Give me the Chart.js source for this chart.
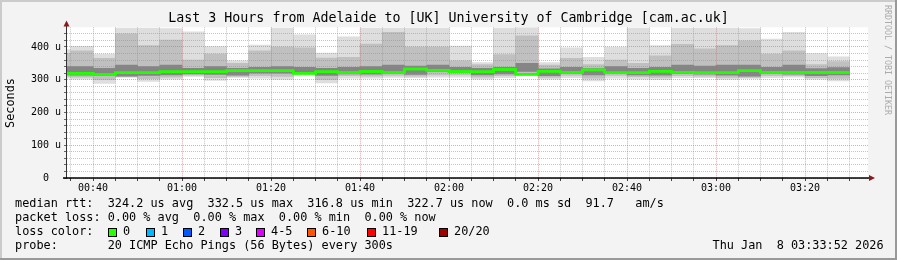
<!DOCTYPE html>
<html>
<head>
<meta charset="utf-8">
<script src="https://cdn.jsdelivr.net/npm/chart.js@4.4.1/dist/chart.umd.min.js"></script>
<style>
  html, body { margin: 0; padding: 0; background: #f3f3f3; }
  canvas { display: block; }
</style>
</head>
<body>
<canvas id="chart" width="897" height="260"></canvas>
<script>
// 5 minute rrd steps, minutes after midnight (start of each step)
const slotStart = [30, 35, 40, 45, 50, 55, 60, 65, 70, 75, 80, 85,
                   90, 95, 100, 105, 110, 115, 120, 125, 130, 135, 140, 145,
                   150, 155, 160, 165, 170, 175, 180, 185, 190, 195, 200, 205];
const lastSlotEnd = 210;

// round trip times in microseconds (smoke bands + median)
const rttMax = [392, 402, 378, 458, 458, 456, 446, 401, 358, 406, 458, 437,
                381, 431, 458, 458, 458, 458, 403, 352, 458, 459, 352, 397,
                368, 400, 458, 404, 458, 458, 458, 456, 424, 445, 380, 370];
const rttHi1 = [380, 388, 365, 440, 404, 421, 360, 378, 350, 388, 400, 397,
                366, 368, 409, 445, 400, 400, 358, 346, 377, 434, 345, 365,
                346, 360, 350, 373, 408, 394, 404, 419, 378, 388, 346, 355];
const rttHi2 = [340, 340, 335, 345, 340, 345, 335, 340, 335, 338, 340, 338,
                335, 338, 340, 345, 342, 345, 338, 335, 338, 350, 333, 338,
                334, 340, 335, 338, 345, 342, 345, 345, 338, 345, 334, 337];
const rttMedian = [321, 320, 320, 316, 321, 321, 324, 324, 324, 327, 327, 327,
                   320, 324, 322, 325, 322, 333, 329, 325, 324, 331, 317, 326,
                   323, 330, 321, 321, 326, 323, 321, 321, 327, 323, 322, 322];
const rttLo2 = [315, 314, 312, 311, 313, 315, 318, 316, 314, 320, 320, 321,
                313, 318, 317, 319, 316, 325, 322, 315, 318, 325, 312, 320,
                315, 322, 315, 314, 319, 317, 314, 311, 320, 317, 312, 315];
const rttLo1 = [310, 308, 300, 309, 303, 308, 314, 306, 310, 312, 310, 317,
                300, 312, 311, 313, 311, 315, 315, 308, 312, 318, 307, 313,
                305, 313, 309, 307, 312, 311, 307, 307, 312, 312, 306, 304];
const rttMin = [305, 302, 289, 307, 295, 302, 310, 298, 307, 305, 301, 313,
                290, 305, 305, 307, 306, 308, 308, 302, 306, 313, 302, 306,
                296, 305, 302, 300, 306, 306, 301, 304, 306, 308, 302, 296];

const xTickMinutes = [40, 60, 80, 100, 120, 140, 160, 180, 200];
const xTickLabels = ['00:40', '01:00', '01:20', '01:40', '02:00', '02:20', '02:40', '03:00', '03:20'];
const yTickValues = [0, 100, 200, 300, 400];
const yTickLabels = ['0  ', '100 u', '200 u', '300 u', '400 u'];

const lossLabels = ['0', '1', '2', '3', '4-5', '6-10', '11-19', '20/20'];
const lossColors = ['#26ff00', '#00b8ff', '#0059ff', '#7e00ff', '#dd00ff', '#ff5500', '#ff0000', '#a10000'];

const title = 'Last 3 Hours from Adelaide to [UK] University of Cambridge [cam.ac.uk]';
const legendRtt = 'median rtt:  324.2 us avg  332.5 us max  316.8 us min  322.7 us now  0.0 ms sd  91.7   am/s';
const legendLoss = 'packet loss: 0.00 % avg  0.00 % max  0.00 % min  0.00 % now';
const legendProbe = 'probe:       20 ICMP Echo Pings (56 Bytes) every 300s';
const stamp = 'Thu Jan  8 03:33:52 2026';

const MONO = '"DejaVu Sans Mono", "Liberation Mono", monospace';

function band(lo, hi) {
    return slotStart.map((t, i) => ({ x: t + 2.5, y: [lo[i], hi[i]] }));
}

const medianSteps = slotStart.map((t, i) => ({ x: t, y: rttMedian[i] }));
medianSteps.push({ x: lastSlotEnd, y: rttMedian[rttMedian.length - 1] });

const smoke = {
    type: 'bar',
    borderWidth: 0,
    barPercentage: 1,
    categoryPercentage: 1,
    grouped: false,
    clip: 0
};

const rrdLook = {
    id: 'rrdLook',
    beforeDraw(chart) {
        const { ctx, chartArea: a } = chart;
        const w = chart.width, h = chart.height;
        ctx.save();
        ctx.fillStyle = '#f3f3f3';
        ctx.fillRect(0, 0, w, h);
        ctx.fillStyle = '#cbcbcb';
        ctx.fillRect(0, 0, w, 2);
        ctx.fillRect(0, 0, 2, h);
        ctx.fillStyle = '#999999';
        ctx.fillRect(0, h - 2, w, 2);
        ctx.fillRect(w - 2, 0, 2, h);
        ctx.fillStyle = '#ffffff';
        ctx.fillRect(a.left, a.top, a.right - a.left, a.bottom - a.top);
        ctx.restore();
    },
    afterDraw(chart) {
        const { ctx, chartArea: a } = chart;

        // median line again, above the grid
        ctx.save();
        ctx.beginPath();
        ctx.rect(a.left, a.top, a.right - a.left, a.bottom - a.top);
        ctx.clip();
        chart.getDatasetMeta(3).controller.draw();
        ctx.restore();

        ctx.save();
        // axes
        ctx.strokeStyle = '#333';
        ctx.lineWidth = 1;
        ctx.beginPath();
        ctx.moveTo(66.5, a.bottom);
        ctx.lineTo(66.5, 24);
        ctx.stroke();
        ctx.strokeStyle = '#000';
        ctx.lineWidth = 1.5;
        ctx.beginPath();
        ctx.moveTo(63, a.bottom);
        ctx.lineTo(870, a.bottom);
        ctx.stroke();
        ctx.fillStyle = '#8b1a1a';
        ctx.beginPath();
        ctx.moveTo(66.5, 20.5);
        ctx.lineTo(63.5, 26.5);
        ctx.lineTo(69.5, 26.5);
        ctx.closePath();
        ctx.fill();
        ctx.beginPath();
        ctx.moveTo(875, a.bottom);
        ctx.lineTo(869, a.bottom - 3);
        ctx.lineTo(869, a.bottom + 3);
        ctx.closePath();
        ctx.fill();

        // title
        ctx.fillStyle = '#000';
        ctx.textBaseline = 'middle';
        ctx.textAlign = 'center';
        ctx.font = '13.3px ' + MONO;
        ctx.fillText(title, 448.5, 19);

        // y axis title
        ctx.font = '11.85px ' + MONO;
        ctx.save();
        ctx.translate(11, 103);
        ctx.rotate(-Math.PI / 2);
        ctx.fillText('Seconds', 0, 0);
        ctx.restore();

        // credit
        ctx.save();
        ctx.fillStyle = '#ababab';
        ctx.font = '8.3px ' + MONO;
        ctx.textAlign = 'left';
        ctx.translate(887, 5);
        ctx.rotate(Math.PI / 2);
        ctx.fillText('RRDTOOL / TOBI OETIKER', 0, 0);
        ctx.restore();

        // legend
        ctx.textAlign = 'left';
        ctx.font = '11.85px ' + MONO;
        ctx.fillText(legendRtt, 15, 204.3);
        ctx.fillText(legendLoss, 15, 218.3);
        ctx.fillText('loss color:', 15, 232.3);
        ctx.fillText(legendProbe, 15, 246.3);
        ctx.fillText(stamp, 712.5, 246.3);

        const swatchX = [108, 145.5, 182.5, 219.5, 256, 306.5, 366.5, 439];
        lossLabels.forEach((lab, i) => {
            const sx = Math.round(swatchX[i]);
            ctx.fillStyle = lossColors[i];
            ctx.fillRect(sx, 228, 9, 9);
            ctx.strokeStyle = '#000';
            ctx.lineWidth = 1;
            ctx.strokeRect(sx + 0.5, 228.5, 8, 8);
            ctx.fillStyle = '#000';
            ctx.fillText(lab, sx + 15, 232.3);
        });
        ctx.restore();
    }
};

new Chart(document.getElementById('chart'), {
    data: {
        datasets: [
            { ...smoke, order: 3, data: band(rttMin, rttMax), backgroundColor: '#dedede' },
            { ...smoke, order: 2, data: band(rttLo1, rttHi1), backgroundColor: '#c0c0c0' },
            { ...smoke, order: 1, data: band(rttLo2, rttHi2), backgroundColor: '#858585' },
            {
                type: 'line',
                order: 0,
                data: medianSteps,
                borderColor: '#22ff00',
                borderWidth: 2.5,
                pointRadius: 0,
                stepped: 'after',
                clip: 0
            }
        ]
    },
    options: {
        responsive: false,
        animation: false,
        devicePixelRatio: 1,
        layout: { padding: { left: 0, top: 27.3, right: 29, bottom: 0 } },
        plugins: { legend: { display: false }, tooltip: { enabled: false } },
        scales: {
            x: {
                type: 'linear',
                offset: false,
                min: 34.15,
                max: 214.15,
                afterFit(s) { s.height = 82; },
                afterBuildTicks(s) {
                    const t = [];
                    for (let m = 35; m <= 210; m += 5) t.push({ value: m });
                    s.ticks = t;
                },
                grid: {
                    z: 1,
                    offset: false,
                    color: c => (c.tick && c.tick.value % 20 === 0) ? 'rgba(230,90,90,0.55)' : 'rgba(140,140,140,0.5)',
                    tickColor: '#444',
                    tickLength: 3
                },
                border: { display: false, dash: [1, 1] },
                ticks: {
                    autoSkip: false,
                    maxRotation: 0,
                    padding: 1,
                    color: '#000',
                    font: { family: MONO, size: 10 },
                    callback(v) {
                        const i = xTickMinutes.indexOf(v);
                        return i < 0 ? '' : xTickLabels[i];
                    }
                }
            },
            y: {
                min: 0,
                max: 460,
                afterFit(s) { s.width = 67; },
                afterBuildTicks(s) {
                    const t = [];
                    for (let v = 0; v <= 440; v += 20) t.push({ value: v });
                    s.ticks = t;
                },
                grid: {
                    z: 1,
                    color: c => (c.tick && c.tick.value % 100 === 0) ? 'rgba(230,90,90,0.55)' : 'rgba(140,140,140,0.5)',
                    tickColor: '#666',
                    tickLength: 3
                },
                border: { display: false, dash: [1, 1] },
                ticks: {
                    autoSkip: false,
                    padding: 3,
                    color: '#000',
                    font: { family: MONO, size: 10 },
                    callback(v) {
                        const i = yTickValues.indexOf(v);
                        return i < 0 ? '' : yTickLabels[i];
                    }
                }
            }
        }
    },
    plugins: [rrdLook]
});
</script>
</body>
</html>
